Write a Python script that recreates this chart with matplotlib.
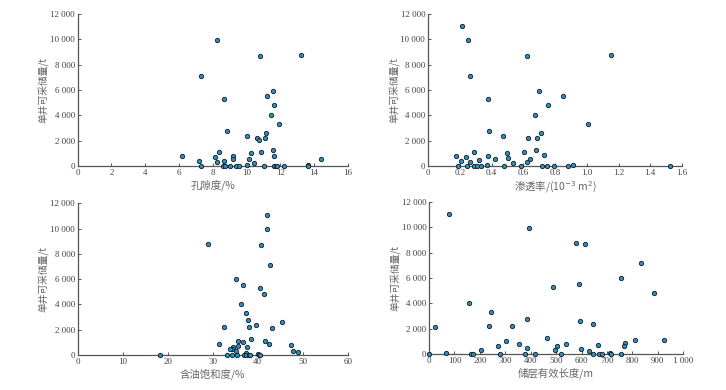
import matplotlib
matplotlib.use("Agg")
import matplotlib.pyplot as plt
from matplotlib.ticker import FuncFormatter

plt.rcParams['font.family'] = ['Liberation Serif', 'Noto Sans CJK SC', 'DejaVu Sans']

# 孔隙度 / %
por_x = [8.28, 7.29, 10.82, 13.24, 11.57, 8.65, 11.23, 11.65, 11.47, 11.90,
         8.85, 10.01, 10.60, 10.74, 11.07, 11.17, 11.57, 10.88, 10.27, 11.65,
         9.18, 9.20, 8.37, 8.16, 10.15, 8.65, 8.24, 10.46, 6.19, 7.17,
         14.44, 10.05, 13.67,
         7.29, 8.61, 8.75, 9.00, 9.40, 9.54, 11.02, 11.61, 11.73, 11.80, 12.21, 13.63]
por_y = [9950, 7150, 8700, 8800, 5950, 5300, 5550, 4800, 4000, 3350,
         2800, 2400, 2200, 2100, 2200, 2600, 1300, 1100, 1000, 800,
         800, 600, 1100, 700, 600, 400, 300, 250, 800, 400,
         600, 100, 100,
         0, 0, 50, 0, 0, 20, 0, 0, 0, 20, 0, 0]

# 渗透率 / (10^-3 um^2)
perm_x = [0.212, 0.250, 0.265, 0.626, 1.153, 0.699, 0.848, 0.376, 0.758, 0.672,
          1.008, 0.384, 0.470, 0.710, 0.687, 0.632, 0.680, 0.292, 0.603, 0.500,
          0.731, 0.178, 0.380, 0.239, 0.424, 0.502, 0.640, 0.210, 0.321, 0.262,
          0.538, 0.622, 0.374, 0.911,
          0.187, 0.248, 0.288, 0.311, 0.334, 0.477, 0.586, 0.716, 0.750, 0.792, 0.882, 1.524]
perm_y = [11050, 9950, 7150, 8700, 8800, 5950, 5550, 5300, 4800, 4000,
          3350, 2800, 2400, 2600, 2200, 2200, 1300, 1100, 1100, 1000,
          850, 800, 800, 700, 600, 650, 600, 400, 450, 300,
          250, 300, 100, 100,
          0, 0, 0, 20, 0, 0, 0, 0, 0, 30, 30, 0]

# 含油饱和度 / %
sat_x = [42.12, 42.12, 29.04, 40.64, 42.78, 35.25, 36.80, 40.49, 41.38, 36.21,
         37.39, 37.91, 39.53, 37.98, 32.51, 45.44, 43.08, 38.50, 35.54, 36.65,
         41.68, 31.40, 42.41, 47.44, 35.69, 37.61, 34.51, 34.21, 33.90, 35.17,
         47.81, 48.84, 37.32, 40.05,
         18.25, 33.10, 34.36, 35.32, 36.95, 37.46, 38.05, 38.35, 40.27, 40.50]
sat_y = [11050, 9950, 8750, 8700, 7150, 6000, 5550, 5300, 4800, 4000,
         3350, 2800, 2400, 2200, 2200, 2600, 2150, 1300, 1100, 1000,
         1100, 850, 850, 800, 700, 600, 600, 500, 450, 350,
         300, 250, 150, 100,
         0, 0, 0, 0, 0, 0, 0, 0, 0, 0]

# 储层有效长度 / m
len_x = [77, 394, 578, 612, 833, 757, 590, 488, 886, 159,
         242, 384, 593, 645, 235, 326, 22, 464, 301, 812,
         926, 355, 540, 771, 666, 767, 271, 503, 386, 597,
         204, 495, 628, 66, 712,
         0, 166, 173, 279, 377, 418, 519, 645, 668, 679, 715, 754]
len_y = [11050, 9950, 8750, 8700, 7150, 6000, 5550, 5300, 4800, 4000,
         3350, 2800, 2600, 2400, 2200, 2200, 2100, 1300, 1000, 1100,
         1100, 800, 800, 850, 700, 600, 600, 600, 450, 400,
         300, 300, 250, 100, 100,
         0, 0, 0, 0, 0, 0, 0, 0, 0, 0, 0, 0]

panels = [
    (por_x, por_y, '孔隙度/%', (0, 16), list(range(0, 17, 2))),
    (perm_x, perm_y, '渗透率/(10$^{-3}$ m$^{2}$)', (0, 1.6), [0, 0.2, 0.4, 0.6, 0.8, 1.0, 1.2, 1.4, 1.6]),
    (sat_x, sat_y, '含油饱和度/%', (0, 60), list(range(0, 61, 10))),
    (len_x, len_y, '储层有效长度/m', (0, 1000), list(range(0, 1001, 100))),
]
rects = [
    [0.107, 0.574, 0.372, 0.390],
    [0.5895, 0.574, 0.350, 0.390],
    [0.107, 0.0897, 0.372, 0.389],
    [0.591, 0.0923, 0.350, 0.390],
]

def thousands(v, pos):
    return '{:,.0f}'.format(v).replace(',', ' ')

fig = plt.figure(figsize=(7.26, 3.9), dpi=100)
axis_col = '#555555'
for i, (xs, ys, xlabel, xlim, xticks) in enumerate(panels):
    ax = fig.add_axes(rects[i])
    ax.scatter(xs, ys, s=10, c='#2690c8', edgecolors='#1a1a1a', linewidths=0.6,
               zorder=3, clip_on=False)
    ax.set_xlim(*xlim)
    ax.set_ylim(0, 12000)
    ax.set_xticks(xticks)
    ax.set_yticks(range(0, 12001, 2000))
    ax.yaxis.set_major_formatter(FuncFormatter(thousands))
    if i == 1:
        ax.xaxis.set_major_formatter(FuncFormatter(lambda v, p: '0' if v == 0 else '%.1f' % v))
    elif i == 3:
        ax.xaxis.set_major_formatter(FuncFormatter(thousands))
    for s in ['top', 'right']:
        ax.spines[s].set_visible(False)
    for s in ['left', 'bottom']:
        ax.spines[s].set_color(axis_col)
        ax.spines[s].set_linewidth(0.9)
    ax.tick_params(direction='in', length=2.5, width=0.7, color=axis_col,
                   labelsize=6.5, labelcolor='#444444', pad=2)
    ax.set_ylabel('单井可采储量/t', fontsize=7, color='#666666', labelpad=1,
                  family=['Noto Sans CJK SC'])
    ax.set_xlabel(xlabel, fontsize=7.5, color='#666666', labelpad=2,
                  family=['Noto Sans CJK SC', 'DejaVu Sans'])

fig.savefig('out.png', dpi=100)
